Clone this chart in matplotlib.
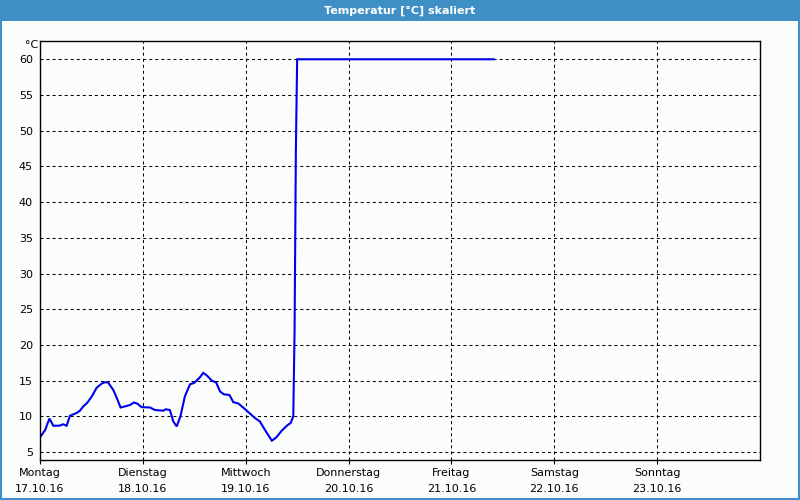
import matplotlib.pyplot as plt
from matplotlib.patches import Rectangle

# hours since Montag 17.10.16 00:00 and temperature in degC
hours = [0.15, 1.2, 2.2, 3.1, 4.5, 5.4, 6.2, 7.0, 8.6, 9.3, 10.1, 11.0, 12.1, 13.2,
         14.4, 15.2, 15.9, 17.1, 17.9, 18.8, 19.8, 21.0, 21.9, 22.7, 23.7, 25.7,
         26.8, 28.8, 29.3, 30.3, 31.1, 31.9, 32.8, 33.8, 35.0, 36.0, 37.2, 38.1,
         39.0, 40.1, 41.1, 42.0, 42.9, 44.2, 45.1, 46.3, 47.4, 49.0, 50.2, 51.3,
         52.5, 54.1, 55.2, 56.4, 57.6, 58.5, 59.1, 59.4, 59.7, 60.0, 105.9]
temps = [7.2, 8.1, 9.7, 8.7, 8.7, 8.9, 8.7, 10.1, 10.5, 10.8, 11.4, 11.9, 12.8, 14.0,
         14.6, 14.8, 14.75, 13.7, 12.6, 11.25, 11.4, 11.6, 11.95, 11.8, 11.3, 11.25,
         10.9, 10.8, 11.0, 10.9, 9.3, 8.6, 10.1, 12.8, 14.5, 14.7, 15.4, 16.1,
         15.7, 15.0, 14.75, 13.5, 13.1, 13.0, 12.0, 11.8, 11.25, 10.4, 9.76, 9.3,
         8.1, 6.6, 7.1, 8.0, 8.7, 9.1, 10.0, 22.0, 47.0, 60.0, 60.0]

day_names = ['Montag', 'Dienstag', 'Mittwoch', 'Donnerstag', 'Freitag', 'Samstag', 'Sonntag']
day_dates = ['17.10.16', '18.10.16', '19.10.16', '20.10.16', '21.10.16', '22.10.16', '23.10.16']
y_ticks = [5, 10, 15, 20, 25, 30, 35, 40, 45, 50, 55, 60]

bar_blue = '#3d8fc4'
bg = '#fbfdfb'

fig = plt.figure(figsize=(8, 5), dpi=100, facecolor=bg)
ax = fig.add_axes([0.05, 0.08, 0.90, 0.8386])
ax.set_facecolor(bg)

ax.plot(hours, temps, color='#0000ee', lw=1.5, solid_joinstyle='miter')

ax.set_xlim(0, 168)
ax.set_ylim(3.9, 62.6)
ax.set_xticks([24 * i for i in range(7)])
ax.set_xticklabels([n + '\n' + d for n, d in zip(day_names, day_dates)],
                   fontsize=8, linespacing=1.75)
ax.set_yticks(y_ticks)
ax.set_yticklabels([str(v) for v in y_ticks], fontsize=8)
ax.tick_params(axis='x', length=3, width=0.8, pad=3, color='black')
ax.tick_params(axis='y', length=0, pad=5)

ax.grid(True, color='black', lw=0.75, linestyle=(0, (2.9, 2.9)))
for s in ax.spines.values():
    s.set_color('black')
    s.set_linewidth(1.0)

fig.text(0.031, 0.91, '°C', fontsize=8, ha='left', va='center')

# title bar and frame
fig.patches.append(Rectangle((0, 1 - 21 / 500), 1, 21 / 500, transform=fig.transFigure,
                             facecolor=bar_blue, edgecolor='none'))
fig.patches.append(Rectangle((0.001, 0.002), 0.998, 0.997, transform=fig.transFigure,
                             facecolor='none', edgecolor=bar_blue, lw=1.5))
fig.text(0.5, 1 - 10.5 / 500, 'Temperatur [°C] skaliert', color='white', fontsize=8,
         fontweight='bold', ha='center', va='center')

fig.savefig('out.png', dpi=100, facecolor=bg)
